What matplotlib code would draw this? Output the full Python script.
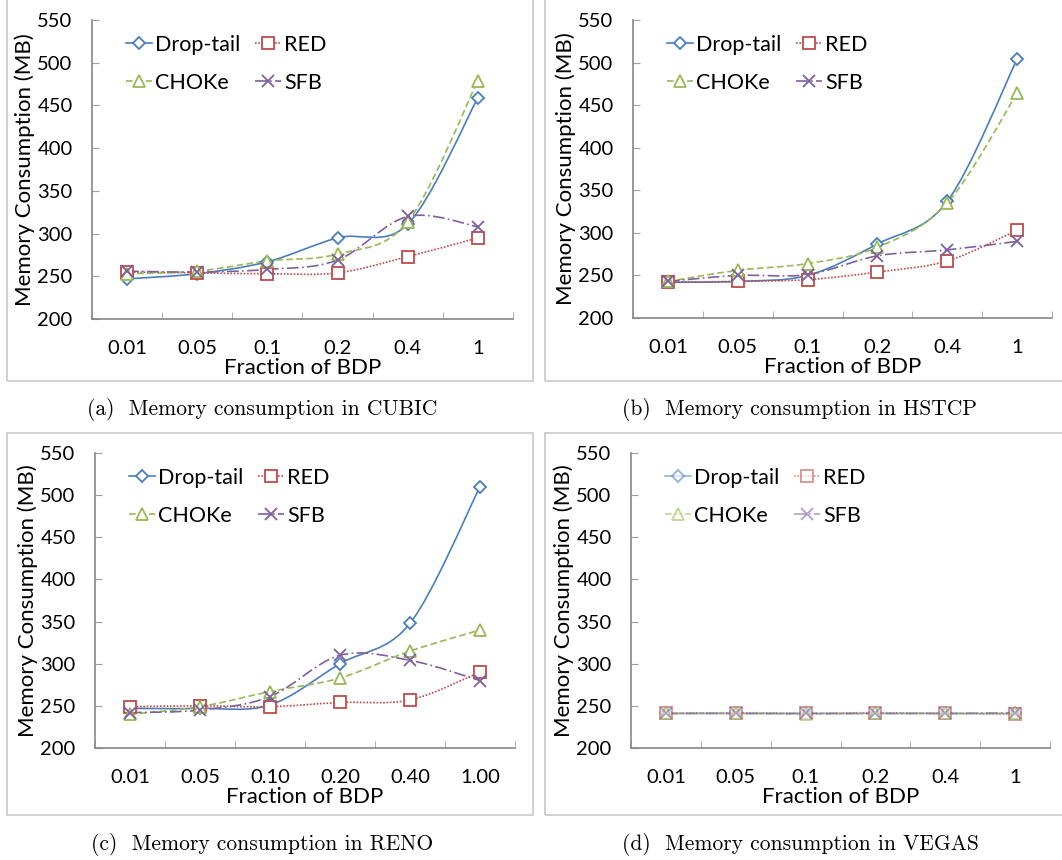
import numpy as np
import matplotlib
matplotlib.use("Agg")
import matplotlib.pyplot as plt
from matplotlib.path import Path
from matplotlib.patches import PathPatch, Rectangle
from matplotlib.lines import Line2D

plt.rcParams['font.family'] = ['Lato', 'DejaVu Sans']

# data (MB)
xlabels_std = ['0.01', '0.05', '0.1', '0.2', '0.4', '1']
xlabels_reno = ['0.01', '0.05', '0.10', '0.20', '0.40', '1.00']
series_names = ['Drop-tail', 'RED', 'CHOKe', 'SFB']

cubic_drop = [247, 253, 267, 295, 311, 459]
cubic_red = [255, 254, 253, 254, 273, 295]
cubic_choke = [253, 256, 268, 276, 314, 479]
cubic_sfb = [256, 255, 258, 269, 320, 308]

hstcp_drop = [242, 243, 250, 287, 337, 504]
hstcp_red = [242, 243, 245, 254, 267, 303]
hstcp_choke = [243, 256, 264, 283, 335, 464]
hstcp_sfb = [243, 250, 251, 273, 280, 290]

reno_drop = [247, 247, 251, 300, 348, 510]
reno_red = [249, 250, 249, 254, 257, 290]
reno_choke = [240, 249, 267, 283, 315, 340]
reno_sfb = [242, 245, 261, 310, 304, 280]

vegas_drop = [241, 241, 241, 241, 241, 241]
vegas_red = [241, 242, 241, 242, 241, 240]
vegas_choke = [241, 241, 240, 241, 241, 241]
vegas_sfb = [241, 241, 241, 241, 241, 242]

captions = ['(a)  Memory consumption in CUBIC', '(b)  Memory consumption in HSTCP',
            '(c)  Memory consumption in RENO', '(d)  Memory consumption in VEGAS']

colors = ['#4A7EBB', '#BE4B48', '#98B954', '#7D60A0']
markers = ['D', 's', '^', 'x']
msizes = [6.5, 8.5, 8.5, 9]
lstyles = ['-', (0, (1, 1)), (0, (4, 2)), (0, (7, 2, 1, 2))]


def smooth_path(xs, ys):
    # excel-style smoothed line as bezier segments through the points
    p = np.column_stack([xs, ys]).astype(float)
    n = len(p)
    verts = [p[0]]
    codes = [Path.MOVETO]
    for i in range(n - 1):
        p0 = p[max(i - 1, 0)]
        p3 = p[min(i + 2, n - 1)]
        c1 = p[i] + (p[i + 1] - p0) / 6.0
        c2 = p[i + 1] - (p3 - p[i]) / 6.0
        verts += [c1, c2, p[i + 1]]
        codes += [Path.CURVE4] * 3
    return Path(verts, codes)


W, H = 1062, 860
fig = plt.figure(figsize=(W / 100, H / 100), dpi=100)

# panel frames (chart areas)
for (x0, y0, x1, y1) in [(7, -2, 533, 381), (545, -2, 1064, 381),
                         (7, 433, 533, 815), (545, 433, 1064, 815)]:
    fig.patches.append(Rectangle((x0 / W, 1 - y1 / H), (x1 - x0) / W, (y1 - y0) / H,
                                 transform=fig.transFigure, fill=False,
                                 edgecolor='#C8C8C8', lw=1.2))

panels = [
    ([92, 20, 513, 319], [cubic_drop, cubic_red, cubic_choke, cubic_sfb], xlabels_std, 1.0),
    ([633, 20, 1052, 318], [hstcp_drop, hstcp_red, hstcp_choke, hstcp_sfb], xlabels_std, 1.0),
    ([95, 453, 515, 748], [reno_drop, reno_red, reno_choke, reno_sfb], xlabels_reno, 1.0),
    ([631, 453, 1050, 748], [vegas_drop, vegas_red, vegas_choke, vegas_sfb], xlabels_std, 0.6),
]
cap_pos = [(262, 410), (800, 410), (262, 845), (800, 845)]

for k, (box, data, xl, alpha) in enumerate(panels):
    l, t, r, b = box
    ax = fig.add_axes([l / W, 1 - b / H, (r - l) / W, (b - t) / H])
    x = np.arange(len(xl))
    handles = []
    for j in range(4):
        ax.add_patch(PathPatch(smooth_path(x, data[j]), fill=False, edgecolor=colors[j],
                               lw=1.2, linestyle=lstyles[j], alpha=alpha, zorder=2))
        ax.plot(x, data[j], linestyle='none', marker=markers[j], ms=msizes[j],
                mfc='white' if markers[j] != 'x' else colors[j], mec=colors[j], mew=1.3,
                alpha=alpha, zorder=3)
        handles.append(Line2D([], [], color=colors[j], linestyle=lstyles[j], lw=1.2,
                              marker=markers[j], ms=msizes[j], mfc='white', mec=colors[j],
                              mew=1.3, alpha=alpha))
    ax.set_xlim(-0.5, len(xl) - 0.5)
    ax.set_ylim(200, 550)
    ax.set_yticks(np.arange(200, 551, 50))
    ax.set_xticks(x)
    ax.set_xticklabels(xl)
    ax.set_xticks(np.arange(-0.5, len(xl), 1.0), minor=True)
    ax.tick_params(axis='x', which='major', length=0, pad=15, labelsize=14.5)
    ax.tick_params(axis='x', which='minor', direction='in', length=5, color='#A0A0A0')
    ax.tick_params(axis='y', direction='in', length=5, color='#A0A0A0', pad=14, labelsize=14.5)
    for s in ['top', 'right']:
        ax.spines[s].set_visible(False)
    for s in ['left', 'bottom']:
        ax.spines[s].set_color('#868686')
        ax.spines[s].set_linewidth(1.2)
    ax.set_xlabel('Fraction of BDP', fontsize=16, labelpad=1)
    ax.set_ylabel('Memory Consumption (MB)', fontsize=16, labelpad=2)
    order = [0, 2, 1, 3]
    ax.legend([handles[i] for i in order], [series_names[i] for i in order], ncol=2,
              loc='upper left', bbox_to_anchor=(0.06, 0.98), frameon=False, fontsize=15.5,
              handlelength=1.2, handletextpad=0.15, columnspacing=0.7, labelspacing=0.85,
              borderaxespad=0)
    cx, cy = cap_pos[k]
    fig.text(cx / W, 1 - cy / H, captions[k], ha='center', va='center',
             fontfamily='cmr10', fontsize=15.5)

fig.savefig('out.png', dpi=100)
